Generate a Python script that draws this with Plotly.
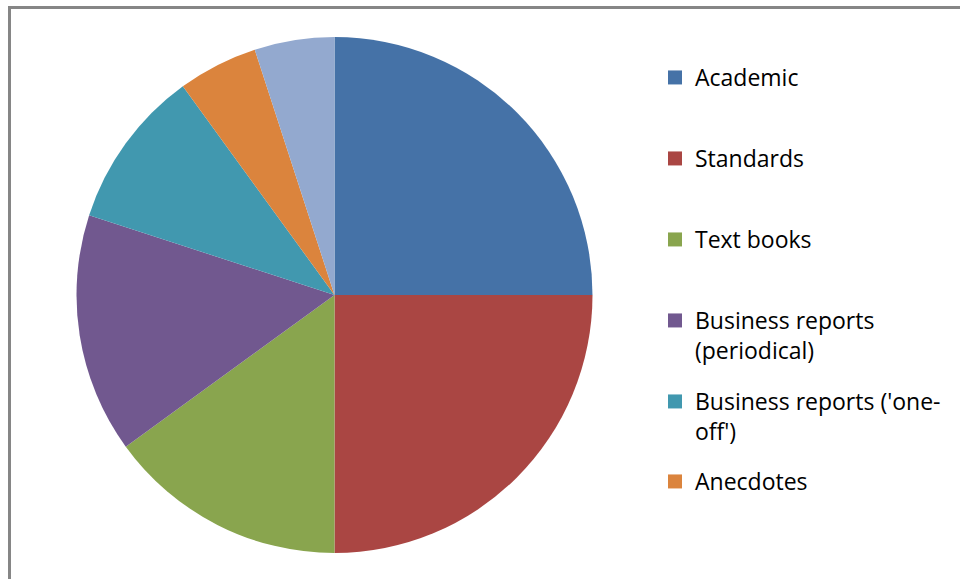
import plotly.graph_objects as go

# Source types and their shares (%)
categories = ["Academic", "Standards", "Text books", "Business reports (periodical)",
              "Business reports ('one-off')", "Anecdotes", "Other"]
shares = [25, 25, 15, 15, 10, 5, 5]
colors = ["#4572A7", "#AA4643", "#89A54E", "#71588F", "#4198AF", "#DB843D", "#93A9CF"]

# Legend entries (text as wrapped in the key); the last slice has no entry
legend_labels = ["Academic", "Standards", "Text books", "Business reports<br>(periodical)",
                 "Business reports ('one-<br>off')", "Anecdotes"]
legend_rows_px = [77, 158, 239, 320, 401, 481]

W, H = 960, 579

fig = go.Figure()
fig.add_trace(go.Pie(
    labels=categories,
    values=shares,
    sort=False,
    direction="clockwise",
    rotation=0,
    marker=dict(colors=colors, line=dict(width=0)),
    textinfo="none",
    showlegend=False,
    domain=dict(x=[76 / W, 593 / W], y=[1 - 553 / H, 1 - 37 / H]),
))

legend_layouts = {}
for i, (lab, col, row) in enumerate(zip(legend_labels, colors, legend_rows_px)):
    key = "legend" if i == 0 else f"legend{i + 1}"
    fig.add_trace(go.Scatter(
        x=[None], y=[None], mode="markers", name=lab,
        marker=dict(symbol="square", size=14, color=col),
        legend=key, hoverinfo="skip",
    ))
    legend_layouts[key] = dict(
        x=655 / W, xanchor="left",
        y=1 - (row - 21) / H, yanchor="top",
        valign="top",
        bgcolor="rgba(0,0,0,0)",
        font=dict(family="Open Sans", size=23, color="#000000"),
        itemclick=False, itemdoubleclick=False,
    )

fig.update_layout(
    width=W, height=H,
    margin=dict(l=0, r=0, t=0, b=0),
    paper_bgcolor="white", plot_bgcolor="white",
    xaxis=dict(visible=False), yaxis=dict(visible=False),
    shapes=[
        dict(type="line", xref="paper", yref="paper",
             x0=8 / W, x1=1, y0=1 - 7.5 / H, y1=1 - 7.5 / H,
             line=dict(color="#868686", width=3)),
        dict(type="line", xref="paper", yref="paper",
             x0=9.5 / W, x1=9.5 / W, y0=0, y1=1 - 6 / H,
             line=dict(color="#868686", width=3)),
    ],
    **legend_layouts,
)

fig.write_html("out.html", config={"displayModeBar": False})
